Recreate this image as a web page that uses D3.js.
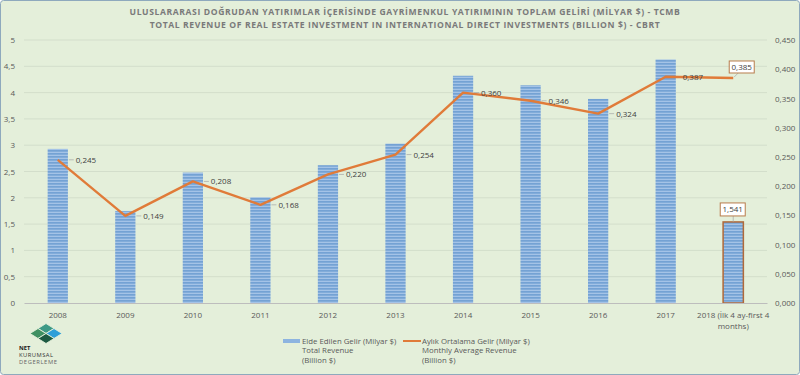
<!DOCTYPE html>
<html lang="tr">
<head>
<meta charset="UTF-8">
<title>Gayrimenkul Yatırımı Geliri</title>
<style>
  body { margin: 0; background: #fff; }
  svg text { font-family: "Open Sans", "DejaVu Sans", sans-serif; }
</style>
</head>
<body>
<script src="https://d3js.org/d3.v7.min.js"></script>
<script>
const years = ["2008", "2009", "2010", "2011", "2012", "2013", "2014", "2015", "2016", "2017", "2018"];
const totalRevenue = [2.93, 1.75, 2.48, 2.01, 2.62, 3.03, 4.32, 4.14, 3.88, 4.63, 1.541];
const monthlyAvg = [0.245, 0.149, 0.208, 0.168, 0.220, 0.254, 0.360, 0.346, 0.324, 0.387, 0.385];
const leftTicks = [0, 0.5, 1, 1.5, 2, 2.5, 3, 3.5, 4, 4.5, 5];
const rightTicks = [0, 0.05, 0.1, 0.15, 0.2, 0.25, 0.3, 0.35, 0.4, 0.45];
const titleLines = [
  "ULUSLARARASI DOĞRUDAN YATIRIMLAR İÇERİSİNDE GAYRİMENKUL YATIRIMININ TOPLAM GELİRİ (MİLYAR $) - TCMB",
  "TOTAL REVENUE OF REAL ESTATE INVESTMENT IN INTERNATIONAL DIRECT INVESTMENTS (BILLION $) - CBRT"
];

const width = 800, height = 375;
const plot = { left: 24, right: 767, top: 40, bottom: 303 };
const fmt = (v, d) => v.toFixed(d).replace(".", ",");

const svg = d3.select("body").append("svg")
  .attr("width", width)
  .attr("height", height);

// stripe fill for the bars
const defs = svg.append("defs");
const pat = defs.append("pattern")
  .attr("id", "stripes")
  .attr("patternUnits", "userSpaceOnUse")
  .attr("width", 4).attr("height", 3);
pat.append("rect").attr("width", 4).attr("height", 3).attr("fill", "#a4c3e7");
pat.append("rect").attr("width", 4).attr("height", 1.7).attr("fill", "#74a2d4");

svg.append("rect")
  .attr("x", 0.5).attr("y", 0.5)
  .attr("width", width - 1).attr("height", height - 1)
  .attr("rx", 3)
  .attr("fill", "#e4efda")
  .attr("stroke", "#8ea9bd");

// title
svg.selectAll(".title")
  .data(titleLines)
  .enter().append("text")
  .attr("x", 405)
  .attr("y", (d, i) => 15 + i * 13)
  .attr("text-anchor", "middle")
  .attr("font-size", 8.6)
  .attr("font-weight", "bold")
  .attr("letter-spacing", 0.6)
  .attr("fill", "#7a7a7a")
  .text(d => d);

const x = d3.scaleBand()
  .domain(years)
  .range([plot.left, plot.right])
  .paddingInner(0.7)
  .paddingOuter(0.35);

const yL = d3.scaleLinear().domain([0, 5]).range([plot.bottom, plot.top]);
const yR = d3.scaleLinear().domain([0, 0.45]).range([plot.bottom, plot.top]);

// gridlines
svg.append("g")
  .selectAll("line")
  .data(leftTicks.slice(1))
  .enter().append("line")
  .attr("x1", plot.left).attr("x2", plot.right)
  .attr("y1", d => yL(d)).attr("y2", d => yL(d))
  .attr("stroke", "#d3decb")
  .attr("stroke-width", 1);

// left axis
const axL = svg.append("g")
  .attr("transform", `translate(${plot.left},0)`)
  .call(d3.axisLeft(yL).tickValues(leftTicks).tickSize(0).tickPadding(9)
    .tickFormat(d => String(d).replace(".", ",")));
axL.select(".domain").remove();
axL.selectAll("text").attr("font-size", 8).attr("fill", "#595959")
  .attr("font-family", "'Open Sans', sans-serif");

// right axis
const axR = svg.append("g")
  .attr("transform", `translate(${plot.right},0)`)
  .call(d3.axisRight(yR).tickValues(rightTicks).tickSize(0).tickPadding(8)
    .tickFormat(d => fmt(d, 3)));
axR.select(".domain").remove();
axR.selectAll("text").attr("font-size", 8).attr("fill", "#595959")
  .attr("font-family", "'Open Sans', sans-serif");

// bars
svg.append("g")
  .selectAll("rect")
  .data(totalRevenue)
  .enter().append("rect")
  .attr("x", (d, i) => x(years[i]))
  .attr("y", d => yL(d))
  .attr("width", x.bandwidth())
  .attr("height", d => yL(0) - yL(d))
  .attr("fill", "url(#stripes)")
  .attr("stroke", (d, i) => i === years.length - 1 ? "#b0693a" : "none")
  .attr("stroke-width", 1.5);

// x axis
const axX = svg.append("g")
  .attr("transform", `translate(0,${plot.bottom})`)
  .call(d3.axisBottom(x).tickSize(0).tickPadding(9)
    .tickFormat(d => d === "2018" ? "" : d));
axX.select(".domain").attr("stroke", "#bdbdbd");
axX.selectAll("text").attr("font-size", 8).attr("fill", "#595959")
  .attr("font-family", "'Open Sans', sans-serif");

const lastX = x("2018") + x.bandwidth() / 2;
svg.append("text")
  .attr("x", lastX).attr("y", 318)
  .attr("text-anchor", "middle")
  .attr("font-size", 8).attr("fill", "#595959")
  .selectAll("tspan")
  .data(["2018 (İlk 4 ay-first 4", "months)"])
  .enter().append("tspan")
  .attr("x", lastX)
  .attr("dy", (d, i) => i === 0 ? 0 : 10.5)
  .text(d => d);

// line
const line = d3.line()
  .x((d, i) => x(years[i]) + x.bandwidth() / 2)
  .y(d => yR(d));

svg.append("path")
  .datum(monthlyAvg)
  .attr("d", line)
  .attr("fill", "none")
  .attr("stroke", "#e07b39")
  .attr("stroke-width", 2.4)
  .attr("stroke-linejoin", "round");

// line labels
const labels = svg.append("g");
monthlyAvg.forEach((v, i) => {
  const px = x(years[i]) + x.bandwidth() / 2;
  const py = yR(v);
  if (i === years.length - 1) {
    const bx = px - 4, by = py - 17;
    labels.append("line")
      .attr("x1", px + 1).attr("y1", py - 1)
      .attr("x2", px + 6).attr("y2", by + 11)
      .attr("stroke", "#a6a6a6").attr("stroke-width", 0.7);
    labels.append("rect")
      .attr("x", bx).attr("y", by)
      .attr("width", 25).attr("height", 12)
      .attr("fill", "#ffffff").attr("stroke", "#b87c4c");
    labels.append("text")
      .attr("x", bx + 12.5).attr("y", by + 8.8)
      .attr("text-anchor", "middle")
      .attr("font-size", 8).attr("fill", "#404040")
      .text(fmt(v, 3));
    return;
  }
  if (i !== years.length - 2) {
    labels.append("line")
      .attr("x1", px + 11).attr("x2", px + 16)
      .attr("y1", py).attr("y2", py)
      .attr("stroke", "#a6a6a6").attr("stroke-width", 0.7);
  }
  labels.append("text")
    .attr("x", i === years.length - 2 ? px + 17 : px + 18)
    .attr("y", py + 3)
    .attr("font-size", 8).attr("fill", "#404040")
    .text(fmt(v, 3));
});

// bar label for 2018
const barTop = yL(totalRevenue[totalRevenue.length - 1]);
labels.append("line")
  .attr("x1", lastX).attr("x2", lastX)
  .attr("y1", barTop - 6).attr("y2", barTop)
  .attr("stroke", "#a6a6a6").attr("stroke-width", 0.7);
labels.append("rect")
  .attr("x", lastX - 13).attr("y", barTop - 19)
  .attr("width", 25).attr("height", 13)
  .attr("fill", "#ffffff").attr("stroke", "#b87c4c");
labels.append("text")
  .attr("x", lastX - 0.5).attr("y", barTop - 9.5)
  .attr("text-anchor", "middle")
  .attr("font-size", 8).attr("fill", "#404040")
  .text(fmt(totalRevenue[totalRevenue.length - 1], 3));

// legend
const leg = svg.append("g").attr("fill", "#595959");
const legText = (x0, lines) => leg.append("text")
  .attr("x", x0).attr("y", 344)
  .attr("font-family", "Lato, 'Open Sans', sans-serif")
  .attr("font-size", 7.8)
  .selectAll("tspan")
  .data(lines)
  .enter().append("tspan")
  .attr("x", x0).attr("dy", (d, i) => i === 0 ? 0 : 9.4)
  .text(d => d);
leg.append("rect").attr("x", 283).attr("y", 339).attr("width", 17).attr("height", 4)
  .attr("fill", "#8db4e0");
legText(302, ["Elde Edilen Gelir (Milyar $)", "Total Revenue", "(Billion $)"]);
leg.append("line").attr("x1", 403).attr("x2", 421).attr("y1", 341).attr("y2", 341)
  .attr("stroke", "#e07b39").attr("stroke-width", 2);
legText(422, ["Aylık Ortalama Gelir (Milyar $)", "Monthly Average Revenue", "(Billion $)"]);

// logo
const logo = svg.append("g").attr("transform", "translate(46,335)");
const diamond = (cx, cy, w, h, c) => logo.append("path")
  .attr("d", `M${cx},${cy - h} L${cx + w},${cy} L${cx},${cy + h} L${cx - w},${cy} Z`)
  .attr("fill", c).attr("stroke", "#e4efda").attr("stroke-width", 0.9)
  .attr("stroke-linejoin", "round");
diamond(0, -6.5, 8, 5, "#3e9a86");
diamond(8, -1.5, 8, 5, "#2f9fd8");
diamond(-8, -1.5, 8, 5, "#3f9062");
diamond(0, 3.5, 8, 5, "#1d5a42");
const logoText = svg.append("g").attr("fill", "#333");
logoText.append("text").attr("x", 19).attr("y", 350).attr("font-size", 5.8)
  .attr("font-weight", "bold").attr("fill", "#1a1a1a").text("NET");
logoText.append("text").attr("x", 19).attr("y", 357.2).attr("font-size", 5.8)
  .attr("textLength", 34).text("KURUMSAL");
logoText.append("text").attr("x", 19).attr("y", 364.4).attr("font-size", 5.8)
  .attr("textLength", 38).attr("fill", "#666").text("DEGERLEME");
</script>
</body>
</html>
